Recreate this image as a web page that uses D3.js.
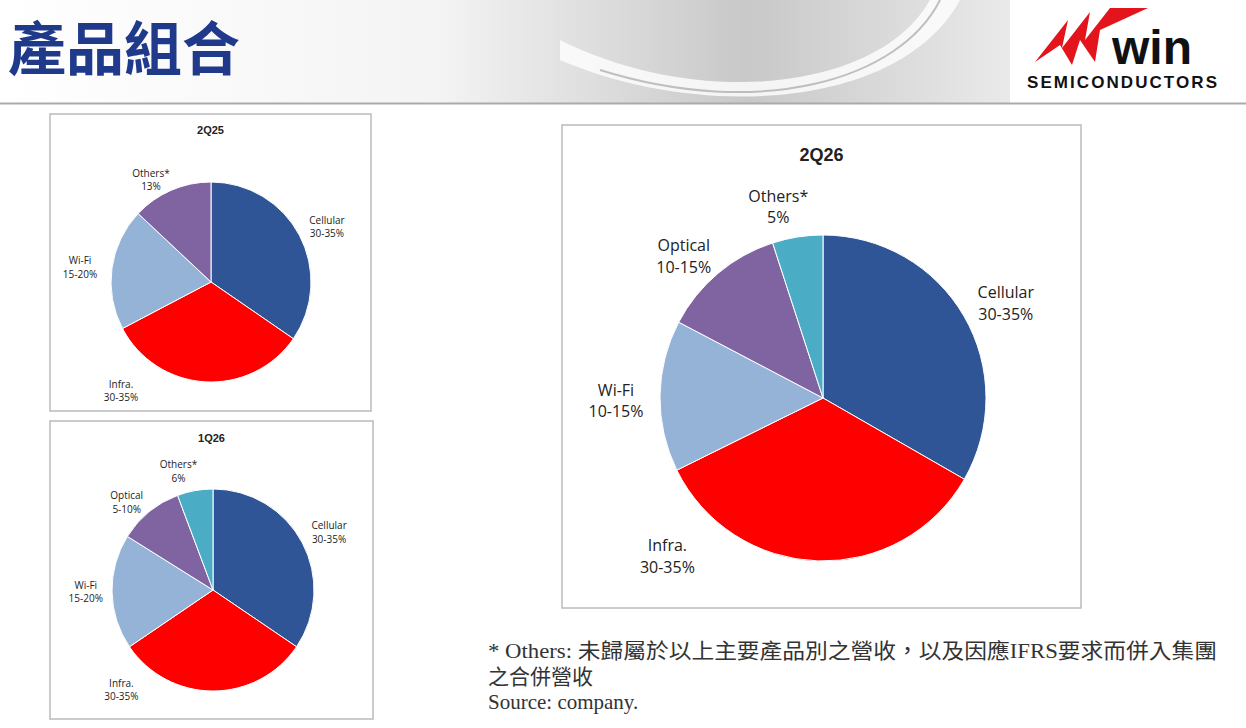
<!DOCTYPE html>
<html><head><meta charset="utf-8">
<script src="https://cdn.jsdelivr.net/npm/d3@7"></script>
<style>body{margin:0;background:#fff}svg{display:block}</style></head>
<body><svg id="c" width="1246" height="728"></svg>
<script>
const title = "產品組合";
const charts = ["2Q25","1Q26","2Q26"];
const cats25 = ["Cellular","Infra.","Wi-Fi","Others*"];
const vals25 = [34.6,32.7,19.7,13.0];
const labels25 = ["30-35%","30-35%","15-20%","13%"];
const cats1Q26 = ["Cellular","Infra.","Wi-Fi","Optical","Others*"];
const vals1Q26 = [34.5,31.0,18.4,10.4,5.7];
const labels1Q26 = ["30-35%","30-35%","15-20%","5-10%","6%"];
const cats2Q26 = ["Cellular","Infra.","Wi-Fi","Optical","Others*"];
const vals2Q26 = [33.3,34.4,15.0,12.3,5.0];
const labels2Q26 = ["30-35%","30-35%","10-15%","10-15%","5%"];
const colors = {"Cellular":"#2f5597","Infra.":"#ff0000","Wi-Fi":"#95b3d7","Optical":"#8064a2","Others*":"#4bacc6"};
const colors25 = {"Cellular":"#2f5597","Infra.":"#ff0000","Wi-Fi":"#95b3d7","Others*":"#8064a2"};

const svg = d3.select("#c");
const defs = svg.append("defs");
const g1 = defs.append("linearGradient").attr("id","hg").attr("x1",0).attr("x2",1);
g1.append("stop").attr("offset","0").attr("stop-color","#ffffff");
g1.append("stop").attr("offset","0.35").attr("stop-color","#f4f4f4");
g1.append("stop").attr("offset","0.6").attr("stop-color","#c8c8c8");
g1.append("stop").attr("offset","0.8").attr("stop-color","#e8e8e8");
g1.append("stop").attr("offset","1").attr("stop-color","#ffffff");
svg.append("rect").attr("x",0).attr("y",0).attr("width",1246).attr("height",103).attr("fill","url(#hg)");
svg.append("path").attr("d","M560,40 C700,110 880,90 930,0 L960,0 C900,110 700,120 560,60 Z").attr("fill","#ffffff").attr("opacity",0.8);
svg.append("path").attr("d","M600,70 C760,120 900,80 940,0").attr("fill","none").attr("stroke","#999").attr("stroke-width",2).attr("opacity",0.6);
svg.append("rect").attr("x",1010).attr("y",0).attr("width",236).attr("height",103).attr("fill","#fff");
svg.append("line").attr("x1",0).attr("x2",1246).attr("y1",103.5).attr("y2",103.5).attr("stroke","#aaa").attr("stroke-width",2);
svg.append("text").attr("x",8).attr("y",70).text(title).attr("font-family","Noto Sans CJK TC").attr("font-weight","bold").attr("font-size",58).attr("fill","#1f3a8a");
// logo
svg.append("path").attr("d","M1035,62 L1068,20 L1062,48 L1090,12 L1085,40 L1110,8 L1148,8 L1100,30 L1095,62 L1080,40 L1072,65 L1060,45 Z").attr("fill","#e3141b");
svg.append("text").attr("x",1112).attr("y",64).text("win").attr("font-family","Liberation Sans").attr("font-weight","bold").attr("font-size",48).attr("fill","#111");
svg.append("text").attr("x",1027).attr("y",88).text("SEMICONDUCTORS").attr("font-family","Liberation Sans").attr("font-weight","bold").attr("font-size",17).attr("textLength",190).attr("fill","#111");

function pie(box, cx, cy, r, name, cats, vals, labels, cols, fs, tfs, ty, lang, ldist){
  svg.append("rect").attr("x",box[0]).attr("y",box[1]).attr("width",box[2]).attr("height",box[3]).attr("fill","#fff").attr("stroke","#bbb").attr("stroke-width",1.5);
  svg.append("text").attr("x",box[0]+box[2]/2).attr("y",ty).attr("text-anchor","middle").text(name).attr("font-family","Liberation Sans").attr("font-weight","bold").attr("font-size",tfs).attr("fill","#222");
  const data = cats.map((c,i)=>({c,v:vals[i],l:labels[i]}));
  const arcs = d3.pie().sort(null).value(d=>d.v)(data);
  const arc = d3.arc().innerRadius(0).outerRadius(r);
  const g = svg.append("g").attr("transform",`translate(${cx},${cy})`);
  g.selectAll("path").data(arcs).join("path").attr("d",arc).attr("fill",d=>cols[d.data.c]).attr("stroke","#fff").attr("stroke-width",1);
  arcs.forEach((a,i)=>{
    const m=lang[i]*Math.PI/180, rr=r*ldist[i];
    const x=Math.sin(m)*rr, y=-Math.cos(m)*rr;
    const t=g.append("text").attr("text-anchor","middle").attr("font-family","Open Sans, Liberation Sans").attr("font-size",fs).attr("fill","#222");
    t.append("tspan").attr("x",x).attr("y",y-fs*0.15).text(a.data.c);
    t.append("tspan").attr("x",x).attr("dy",fs*1.35).text(a.data.l);
  });
}
pie([50,114,321,297],211,282,100,"2Q25",cats25,vals25,labels25,colors25,10,11,134,[64,220,277,330],[1.29,1.4,1.32,1.2]);
pie([50,421,323,298],213,590,101,"1Q26",cats1Q26,vals1Q26,labels1Q26,colors,10,11,442,[63,223,270,316,344],[1.29,1.33,1.26,1.23,1.24]);
pie([562,125,519,483],823,398,163,"2Q26",cats2Q26,vals2Q26,labels2Q26,colors,16,18,161,[62,225,270,316,347],[1.27,1.35,1.27,1.23,1.22]);

const ft = svg.append("text").attr("font-family","Liberation Serif, Noto Sans CJK TC").attr("font-size",21).attr("fill","#333");
ft.append("tspan").attr("x",488).attr("y",658).attr("textLength",729).attr("lengthAdjust","spacingAndGlyphs").text("* Others: 未歸屬於以上主要產品別之營收，以及因應IFRS要求而併入集團");
ft.append("tspan").attr("x",488).attr("y",684).text("之合併營收");
ft.append("tspan").attr("x",488).attr("y",709).text("Source: company.");
</script></body></html>
